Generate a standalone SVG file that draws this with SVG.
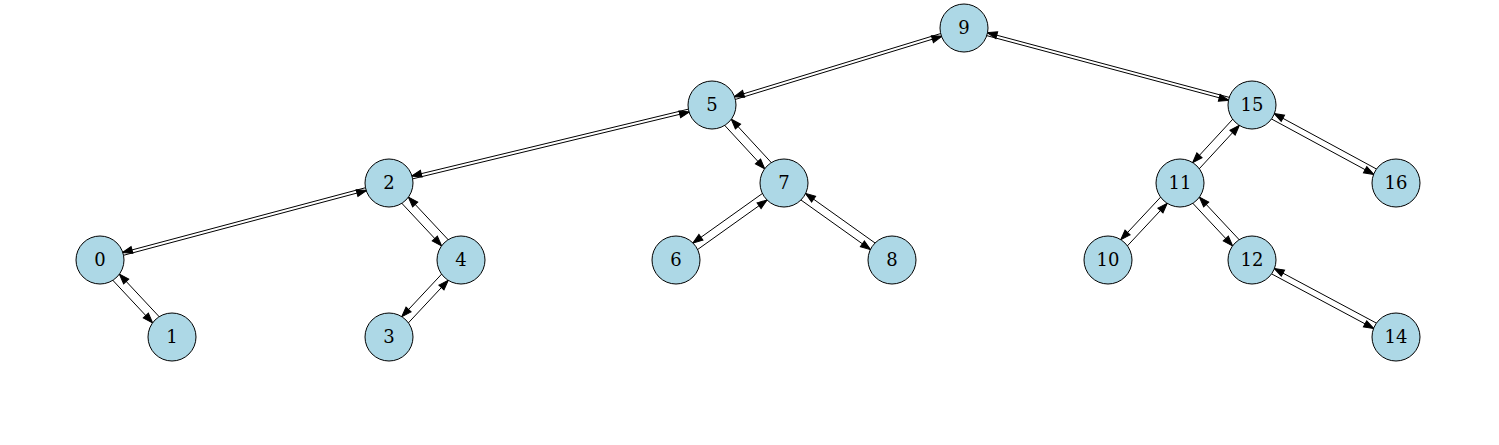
<svg xmlns="http://www.w3.org/2000/svg" width="1499" height="445" viewBox="0 0 1499 445">
<style>
.n circle{fill:#add8e6;stroke:#000;stroke-width:1}
.n text{font-family:"DejaVu Serif","Liberation Serif",serif;font-size:18px;text-anchor:middle;fill:#000}
#edges line{stroke:#000;stroke-width:1;marker-end:url(#ah)}
</style>
<defs>
<marker id="ah" markerUnits="userSpaceOnUse" markerWidth="1" markerHeight="1" refX="0" refY="0" orient="auto" style="overflow:visible">
<path d="M-33.5,-3.5 L-23.5,0 L-33.5,3.5 Z" fill="#000" stroke="#000" stroke-width="1"/>
</marker>
</defs>
<rect width="1499" height="445" fill="#fff"/>
<g id="edges">
<line x1="963.56" y1="26.57" x2="711.56" y2="103.57"/>
<line x1="712.44" y1="106.43" x2="964.44" y2="29.43"/>
<line x1="963.61" y1="29.45" x2="1251.61" y2="106.45"/>
<line x1="1252.39" y1="103.55" x2="964.39" y2="26.55"/>
<line x1="711.65" y1="103.54" x2="388.65" y2="181.54"/>
<line x1="389.35" y1="184.46" x2="712.35" y2="106.46"/>
<line x1="708.69" y1="108.05" x2="780.69" y2="186.05"/>
<line x1="787.31" y1="179.95" x2="715.31" y2="101.95"/>
<line x1="388.61" y1="181.55" x2="99.61" y2="258.55"/>
<line x1="100.39" y1="261.45" x2="389.39" y2="184.45"/>
<line x1="385.71" y1="186.07" x2="457.71" y2="263.07"/>
<line x1="464.29" y1="256.93" x2="392.29" y2="179.93"/>
<line x1="96.71" y1="263.07" x2="168.71" y2="340.07"/>
<line x1="175.29" y1="333.93" x2="103.29" y2="256.93"/>
<line x1="457.71" y1="256.93" x2="385.71" y2="333.93"/>
<line x1="392.29" y1="340.07" x2="464.29" y2="263.07"/>
<line x1="781.68" y1="179.74" x2="673.68" y2="256.74"/>
<line x1="678.32" y1="263.26" x2="786.32" y2="186.26"/>
<line x1="781.68" y1="186.26" x2="889.68" y2="263.26"/>
<line x1="894.32" y1="256.74" x2="786.32" y2="179.74"/>
<line x1="1248.69" y1="101.95" x2="1176.69" y2="179.95"/>
<line x1="1183.31" y1="186.05" x2="1255.31" y2="108.05"/>
<line x1="1250.57" y1="107.64" x2="1394.57" y2="185.64"/>
<line x1="1397.43" y1="180.36" x2="1253.43" y2="102.36"/>
<line x1="1176.71" y1="179.93" x2="1104.71" y2="256.93"/>
<line x1="1111.29" y1="263.07" x2="1183.29" y2="186.07"/>
<line x1="1176.71" y1="186.07" x2="1248.71" y2="263.07"/>
<line x1="1255.29" y1="256.93" x2="1183.29" y2="179.93"/>
<line x1="1250.59" y1="262.65" x2="1394.59" y2="339.65"/>
<line x1="1397.41" y1="334.35" x2="1253.41" y2="257.35"/>
</g>
<g id="node9" class="n"><circle cx="964" cy="28" r="24"/><text x="964" y="34">9</text></g>
<g id="node5" class="n"><circle cx="712" cy="105" r="24"/><text x="712" y="111">5</text></g>
<g id="node15" class="n"><circle cx="1252" cy="105" r="24"/><text x="1252" y="111">15</text></g>
<g id="node2" class="n"><circle cx="389" cy="183" r="24"/><text x="389" y="189">2</text></g>
<g id="node7" class="n"><circle cx="784" cy="183" r="24"/><text x="784" y="189">7</text></g>
<g id="node11" class="n"><circle cx="1180" cy="183" r="24"/><text x="1180" y="189">11</text></g>
<g id="node16" class="n"><circle cx="1396" cy="183" r="24"/><text x="1396" y="189">16</text></g>
<g id="node0" class="n"><circle cx="100" cy="260" r="24"/><text x="100" y="266">0</text></g>
<g id="node4" class="n"><circle cx="461" cy="260" r="24"/><text x="461" y="266">4</text></g>
<g id="node6" class="n"><circle cx="676" cy="260" r="24"/><text x="676" y="266">6</text></g>
<g id="node8" class="n"><circle cx="892" cy="260" r="24"/><text x="892" y="266">8</text></g>
<g id="node10" class="n"><circle cx="1108" cy="260" r="24"/><text x="1108" y="266">10</text></g>
<g id="node12" class="n"><circle cx="1252" cy="260" r="24"/><text x="1252" y="266">12</text></g>
<g id="node1" class="n"><circle cx="172" cy="337" r="24"/><text x="172" y="343">1</text></g>
<g id="node3" class="n"><circle cx="389" cy="337" r="24"/><text x="389" y="343">3</text></g>
<g id="node14" class="n"><circle cx="1396" cy="337" r="24"/><text x="1396" y="343">14</text></g>
</svg>
